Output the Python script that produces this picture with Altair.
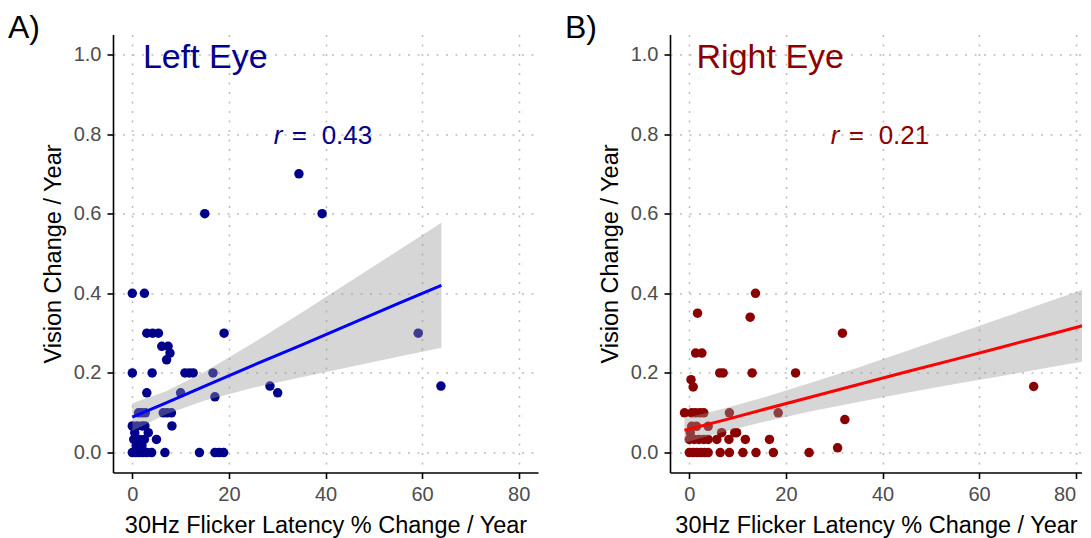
import altair as alt
import pandas as pd

# ---------------- data ----------------
left_x = [34.5, 15.0, 39.3, 0.0, 2.5, 3.0, 4.2, 5.4, 19.0, 59.2,
          6.1, 7.4, 7.8, 7.1, 0.0, 4.1, 10.9, 11.8, 12.6, 16.7,
          28.5, 63.9, 3.0, 10.0, 30.1, 17.1,
          1.3, 2.0, 2.7, 6.4, 7.2, 8.1,
          0.0, 1.0, 2.0, 2.6, 8.2, 3.3, 0.5,
          0.3, 1.5, 2.5, 5.0, 0.8, 2.0,
          0.0, 0.7, 1.4, 2.2, 3.0, 4.0, 6.75, 13.9, 17.1, 18.0, 18.9]
left_y = [0.70, 0.60, 0.60, 0.40, 0.40, 0.30, 0.30, 0.30, 0.30, 0.30,
          0.267, 0.267, 0.25, 0.233, 0.20, 0.20, 0.20, 0.20, 0.20, 0.20,
          0.167, 0.167, 0.15, 0.15, 0.15, 0.14,
          0.10, 0.10, 0.10, 0.10, 0.10, 0.10,
          0.067, 0.067, 0.067, 0.067, 0.067, 0.05, 0.05,
          0.033, 0.033, 0.033, 0.033, 0.017, 0.017,
          0.0, 0.0, 0.0, 0.0, 0.0, 0.0, 0.0, 0.0, 0.0, 0.0, 0.0]

right_x = [13.7, 1.7, 12.6, 31.7, 1.3, 2.6,
           6.3, 7.0, 13.0, 22.0, 0.35, 0.8, 71.3,
           -1.0, 0.5, 1.3, 2.2, 3.0, 8.3, 18.4, 32.2,
           0.5, 1.5, 3.9, 0.2, 6.7, 9.4, 9.8,
           0.0, 1.0, 2.0, 3.0, 3.9, 5.7, 8.2, 11.6, 16.6,
           0.0, 0.8, 1.6, 2.4, 3.2, 3.9, 6.4, 8.3, 11.1, 13.8, 17.4, 24.8, 30.7]
right_y = [0.40, 0.35, 0.34, 0.30, 0.25, 0.25,
           0.20, 0.20, 0.20, 0.20, 0.183, 0.165, 0.166,
           0.10, 0.10, 0.10, 0.10, 0.10, 0.10, 0.10, 0.083,
           0.066, 0.066, 0.066, 0.05, 0.05, 0.05, 0.05,
           0.033, 0.033, 0.033, 0.033, 0.033, 0.033, 0.033, 0.033, 0.033,
           0.0, 0.0, 0.0, 0.0, 0.0, 0.0, 0.0, 0.0, 0.0, 0.0, 0.0, 0.0, 0.012]

# fitted line and its confidence band, read at a few x positions
left_fit_x = [0, 7, 15, 25, 35, 45, 55, 64]
left_fit_y = [0.089, 0.125, 0.167, 0.219, 0.270, 0.322, 0.374, 0.420]
left_ci_lo = [0.054, 0.096, 0.131, 0.163, 0.189, 0.215, 0.241, 0.263]
left_ci_hi = [0.124, 0.154, 0.203, 0.275, 0.351, 0.429, 0.507, 0.577]

right_fit_x = [-1, 7, 15, 25, 35, 45, 55, 65, 75, 84]
right_fit_y = [0.056, 0.081, 0.107, 0.139, 0.171, 0.203, 0.234, 0.266, 0.298, 0.327]
right_ci_lo = [0.025, 0.052, 0.076, 0.103, 0.127, 0.150, 0.172, 0.193, 0.215, 0.234]
right_ci_hi = [0.086, 0.110, 0.137, 0.175, 0.214, 0.255, 0.297, 0.339, 0.382, 0.420]

x_ticks = [0, 20, 40, 60, 80]
y_ticks = [0.0, 0.2, 0.4, 0.6, 0.8, 1.0]

panel_letters = ["A)", "B)"]
panel_titles = ["Left Eye", "Right Eye"]
r_values = ["0.43", "0.21"]

X_TITLE = "30Hz Flicker Latency % Change / Year"
Y_TITLE = "Vision Change / Year"
FONT = "Liberation Sans"


def panel(px, py, fx, fy, lo, hi, pt_color, line_color, title, rtxt, letter,
          width, xmax, title_x, flush):
    pts = pd.DataFrame({"x": px, "y": py})
    fit = pd.DataFrame({"x": fx, "fit": fy, "lo": lo, "hi": hi})
    xs = alt.Scale(domain=[-4, xmax], nice=False, zero=False)
    ys = alt.Scale(domain=[-0.05, 1.05], nice=False, zero=False)
    xax = alt.Axis(values=x_ticks, titlePadding=9, labelFlush=flush)
    yax = alt.Axis(values=y_ticks, format=".1f", titlePadding=8)

    def tx(field="x"):
        return alt.X(f"{field}:Q", title=X_TITLE)

    def ty(field="y"):
        return alt.Y(f"{field}:Q", title=Y_TITLE)

    points = alt.Chart(pts).mark_circle(size=90, opacity=1, color=pt_color).encode(
        x=alt.X("x:Q", scale=xs, axis=xax, title=X_TITLE),
        y=alt.Y("y:Q", scale=ys, axis=yax, title=Y_TITLE),
    )
    band = alt.Chart(fit).mark_area(color="#999999", opacity=0.4, clip=True).encode(
        x=tx(), y=ty("lo"), y2="hi:Q"
    )
    line = alt.Chart(fit).mark_line(color=line_color, strokeWidth=3, clip=True).encode(
        x=tx(), y=ty("fit")
    )
    ttl = alt.Chart(pd.DataFrame({"x": [title_x], "y": [0.967], "t": [title]})).mark_text(
        align="left", baseline="alphabetic", fontSize=34, font=FONT, color=pt_color
    ).encode(x=tx(), y=ty(), text="t:N")
    r_it = alt.Chart(pd.DataFrame({"x": [29.3], "y": [0.774], "t": ["r"]})).mark_text(
        align="left", baseline="alphabetic", fontSize=26, font=FONT, fontStyle="italic",
        color=pt_color
    ).encode(x=tx(), y=ty(), text="t:N")
    r_eq = alt.Chart(pd.DataFrame({"x": [33.0], "y": [0.774], "t": ["="]})).mark_text(
        align="left", baseline="alphabetic", fontSize=26, font=FONT, color=pt_color
    ).encode(x=tx(), y=ty(), text="t:N")
    r_val = alt.Chart(pd.DataFrame({"x": [39.2], "y": [0.774], "t": [rtxt]})).mark_text(
        align="left", baseline="alphabetic", fontSize=26, font=FONT, color=pt_color
    ).encode(x=tx(), y=ty(), text="t:N")
    let = alt.Chart(pd.DataFrame({"t": [letter]})).mark_text(
        align="left", baseline="alphabetic", fontSize=32, font=FONT, color="black"
    ).encode(x=alt.value(-105), y=alt.value(3.5), text="t:N")

    return alt.layer(points, band, line, ttl, r_it, r_eq, r_val, let).properties(
        width=width, height=438
    )


left = panel(left_x, left_y, left_fit_x, left_fit_y, left_ci_lo, left_ci_hi,
             "#00008B", "#0000FF", panel_titles[0], r_values[0], panel_letters[0],
             425, 84.0, 2.2, True)
right = panel(right_x, right_y, right_fit_x, right_fit_y, right_ci_lo, right_ci_hi,
              "#8B0000", "#FF0000", panel_titles[1], r_values[1], panel_letters[1],
              412, 81.3, 1.5, 12)

chart = alt.hconcat(left, right, spacing=27).properties(
    padding={"left": 0, "top": 3.5, "right": 0, "bottom": 0}
).configure_view(stroke=None).configure_axis(
    domainColor="black", domainWidth=1.6, tickColor="black", tickWidth=1.6, tickSize=6,
    labelFont=FONT, labelFontSize=20, labelColor="#4d4d4d", labelPadding=6,
    titleFont=FONT, titleFontSize=23.5, titleFontWeight="normal", titleColor="black",
    gridColor="#bdbdbd", gridDash=[2, 7.5], gridWidth=1.5,
)

chart.save("out.html", embed_options={"renderer": "svg", "actions": False})
